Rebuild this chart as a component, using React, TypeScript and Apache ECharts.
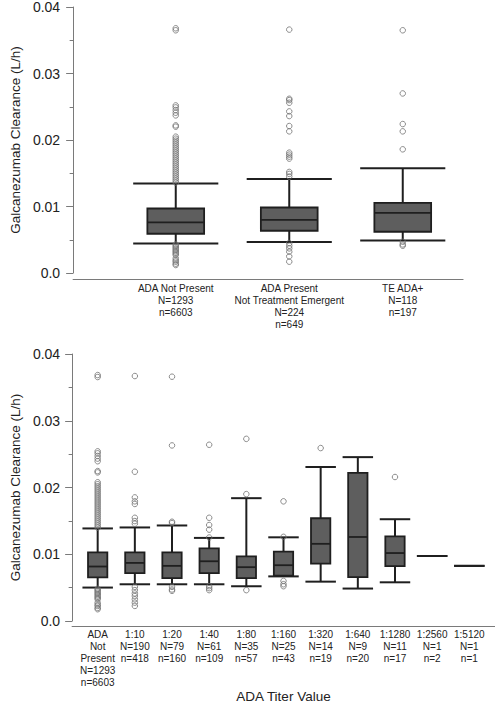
import React, { useEffect, useRef } from "react";
import * as echarts from "echarts";

const FONT = "Liberation Sans";

// ---------- Top panel data ----------
const topNames = ["ADA Not Present", "ADA Present\nNot Treatment Emergent", "TE ADA+"];
const topN = ["N=1293", "N=224", "N=118"];
const topSmallN = ["n=6603", "n=649", "n=197"];
// [lower whisker, Q1, median, Q3, upper whisker]
const topBoxes = [
  [0.00445, 0.0059, 0.0076, 0.0097, 0.01345],
  [0.00465, 0.00635, 0.008, 0.00985, 0.01415],
  [0.0049, 0.0062, 0.00905, 0.01055, 0.01575],
];
const adaNotPresentOutliers = [
  0.0368, 0.0365, 0.0252, 0.0249, 0.0245, 0.0241, 0.0237, 0.0222, 0.022,
  0.0205, 0.0202, 0.0199, 0.0196, 0.0193, 0.019, 0.0187, 0.0184, 0.0181, 0.0178,
  0.0175, 0.0172, 0.0169, 0.0166, 0.0163, 0.016, 0.0157, 0.0154, 0.0151, 0.0148,
  0.0145, 0.0142, 0.0139, 0.0136,
  0.0043, 0.0041, 0.0039, 0.0037, 0.0035, 0.0033, 0.0031, 0.0029, 0.0027,
  0.0022, 0.0019, 0.0017, 0.0014, 0.0012,
];
const topOutliers = [
  adaNotPresentOutliers,
  [0.0366, 0.0262, 0.026, 0.0256, 0.0243, 0.0236, 0.0221, 0.0213, 0.0181, 0.0178,
   0.0175, 0.0172, 0.0152, 0.0149, 0.0145, 0.0045, 0.0041, 0.0037, 0.0032, 0.0025, 0.0017],
  [0.0365, 0.027, 0.0224, 0.0213, 0.0186, 0.0047, 0.0043, 0.0041],
];

// ---------- Bottom panel data ----------
const titerNames = ["ADA\nNot\nPresent", "1:10", "1:20", "1:40", "1:80", "1:160", "1:320", "1:640", "1:1280", "1:2560", "1:5120"];
const titerN = ["N=1293", "N=190", "N=79", "N=61", "N=35", "N=25", "N=14", "N=9", "N=11", "N=1", "N=1"];
const titerSmallN = ["n=6603", "n=418", "n=160", "n=109", "n=57", "n=43", "n=19", "n=20", "n=17", "n=2", "n=1"];
const titerBoxes = [
  [0.00449, 0.00604, 0.00769, 0.00984, 0.01348],
  [0.00499, 0.00669, 0.00824, 0.00984, 0.01363],
  [0.00499, 0.00594, 0.00779, 0.00984, 0.01393],
  [0.00499, 0.00669, 0.00849, 0.01044, 0.01204],
  [0.00469, 0.00594, 0.00759, 0.00924, 0.01808],
  [0.00619, 0.00629, 0.00789, 0.00994, 0.01213],
  [0.00539, 0.00814, 0.01114, 0.01503, 0.02282],
  [0.00434, 0.00609, 0.01218, 0.02192, 0.02432],
  [0.00529, 0.00774, 0.00974, 0.01228, 0.01488],
  [0.00929, 0.00929, 0.00929, 0.00929, 0.00929],
  [0.00779, 0.00779, 0.00779, 0.00779, 0.00779],
];
const titerOutliers = [
  adaNotPresentOutliers,
  [0.03665, 0.0221, 0.0182, 0.0176, 0.0172, 0.0151, 0.0146, 0.0142,
   0.0046, 0.0041, 0.0036, 0.0032, 0.0027, 0.0022, 0.0017],
  [0.03655, 0.0261, 0.0145, 0.0143, 0.0046, 0.0042, 0.004],
  [0.0262, 0.0151, 0.014, 0.0133, 0.0121, 0.0047, 0.0044, 0.0041],
  [0.0271, 0.0187, 0.0041],
  [0.0176, 0.0122, 0.0055, 0.005, 0.0047],
  [0.0257],
  [],
  [0.0213],
  [],
  [],
];

const yTicks = { min: 0, max: 0.04, interval: 0.01 };

const FILL = "#5e5e5e";
const STROKE = "#1f1f1f";
const AXIS = "#7a7a7a";
const TEXT = "#222222";

function makeRender(boxRatio: number, capRatio: number) {
  return (params: any, api: any) => {
    const x = api.value(0);
    const pLo = api.coord([x, api.value(1)]);
    const pQ1 = api.coord([x, api.value(2)]);
    const pMd = api.coord([x, api.value(3)]);
    const pQ3 = api.coord([x, api.value(4)]);
    const pHi = api.coord([x, api.value(5)]);
    const band = api.size([1, 0])[0];
    const bw = band * boxRatio;
    const cw = band * capRatio;
    const cx = pMd[0];
    const lineStyle = { stroke: STROKE, lineWidth: 2 };
    const children: any[] = [
      { type: "line", shape: { x1: cx, y1: pHi[1], x2: cx, y2: pQ3[1] }, style: lineStyle },
      { type: "line", shape: { x1: cx, y1: pQ1[1], x2: cx, y2: pLo[1] }, style: lineStyle },
    ];
    if (pQ1[1] - pQ3[1] > 0.5) {
      children.push({
        type: "rect",
        shape: { x: cx - bw / 2, y: pQ3[1], width: bw, height: pQ1[1] - pQ3[1] },
        style: { fill: FILL, stroke: STROKE, lineWidth: 1.8 },
      });
      children.push({
        type: "line",
        shape: { x1: cx - bw / 2, y1: pMd[1], x2: cx + bw / 2, y2: pMd[1] },
        style: { stroke: STROKE, lineWidth: 1.8 },
      });
    }
    children.push({ type: "line", shape: { x1: cx - cw / 2, y1: pHi[1], x2: cx + cw / 2, y2: pHi[1] }, style: lineStyle });
    children.push({ type: "line", shape: { x1: cx - cw / 2, y1: pLo[1], x2: cx + cw / 2, y2: pLo[1] }, style: lineStyle });
    return { type: "group", children };
  };
}

const yLabelFmt = (v: number) => (v === 0 ? "0.0" : v.toFixed(2));

function visibleY(gridIndex: number, offset: number, nameGap: number, margin: number) {
  return {
    type: "value",
    gridIndex,
    min: yTicks.min,
    max: yTicks.max,
    interval: yTicks.interval,
    offset,
    name: "Galcanezumab Clearance (L/h)",
    nameLocation: "middle",
    nameGap,
    nameTextStyle: { fontFamily: FONT, fontSize: 13.5, color: TEXT },
    axisLine: { show: true, lineStyle: { color: AXIS, width: 1 } },
    axisTick: { show: true, length: 7, lineStyle: { color: AXIS } },
    minorTick: { show: true, splitNumber: 2, length: 3.5, lineStyle: { color: AXIS } },
    axisLabel: { fontFamily: FONT, fontSize: 14, color: TEXT, margin, formatter: yLabelFmt },
    splitLine: { show: false },
  };
}

function hiddenY(gridIndex: number) {
  return { type: "value", gridIndex, min: yTicks.min, max: yTicks.max, show: false, splitLine: { show: false } };
}

function lineOnlyX(gridIndex: number, offset: number) {
  return {
    type: "value",
    gridIndex,
    min: 0,
    max: 1,
    offset,
    axisLine: { show: true, onZero: false, lineStyle: { color: AXIS, width: 1.2 } },
    axisTick: { show: false },
    axisLabel: { show: false },
    splitLine: { show: false },
  };
}

function catX(gridIndex: number, data: string[], margin: number, extra: any = {}) {
  return {
    type: "category",
    gridIndex,
    data,
    axisLine: { show: false },
    axisTick: { show: false },
    axisLabel: {
      interval: 0,
      margin,
      fontFamily: FONT,
      fontSize: 10,
      lineHeight: 12,
      color: TEXT,
      align: "center",
    },
    splitLine: { show: false },
    ...extra,
  };
}

export default function App() {
  const ref = useRef<HTMLDivElement>(null);
  useEffect(() => {
    if (!ref.current) return;
    const chart = echarts.init(ref.current, undefined, { renderer: "svg" });
    const topLabels = topNames.map((n, i) => `${n}\n${topN[i]}\n${topSmallN[i]}`);
    const bottomLabels = titerNames.map((n, i) => `${n}\n${titerN[i]}\n${titerSmallN[i]}`);
    const topBoxData = topBoxes.map((b, i) => [i, ...b]);
    const bottomBoxData = titerBoxes.map((b, i) => [i, ...b]);
    const topOutData: number[][] = [];
    topOutliers.forEach((arr, i) => arr.forEach((v) => topOutData.push([i, v])));
    const bottomOutData: number[][] = [];
    titerOutliers.forEach((arr, i) => arr.forEach((v) => bottomOutData.push([i, v])));

    const outlierStyle = {
      symbol: "circle",
      symbolSize: 5.5,
      itemStyle: { color: "rgba(255,255,255,0)", borderColor: "#707070", borderWidth: 1 },
    };

    chart.setOption({
      animation: false,
      backgroundColor: "#ffffff",
      textStyle: { fontFamily: FONT },
      grid: [
        { left: 63, top: 7, width: 400, height: 266 },
        { left: 119, top: 7, width: 340.5, height: 266 },
        { left: 62, top: 354, width: 433, height: 267 },
        { left: 79.1, top: 354, width: 408.8, height: 267 },
      ],
      xAxis: [
        lineOnlyX(0, 6),
        catX(1, topLabels, 9),
        lineOnlyX(2, 5),
        catX(3, bottomLabels, 11, {
          name: "ADA Titer Value",
          nameLocation: "middle",
          nameGap: 71,
          nameTextStyle: { fontFamily: FONT, fontSize: 13.5, color: TEXT, verticalAlign: "top" },
        }),
      ],
      yAxis: [
        visibleY(0, 3, 45, 10),
        hiddenY(1),
        visibleY(2, 4, 42, 8),
        hiddenY(3),
      ],
      series: [
        {
          type: "custom",
          xAxisIndex: 1,
          yAxisIndex: 1,
          renderItem: makeRender(0.5, 0.75),
          data: topBoxData,
          encode: { x: 0, y: [1, 2, 3, 4, 5] },
        },
        { type: "scatter", xAxisIndex: 1, yAxisIndex: 1, data: topOutData, ...outlierStyle },
        {
          type: "custom",
          xAxisIndex: 3,
          yAxisIndex: 3,
          renderItem: makeRender(0.52, 0.82),
          data: bottomBoxData,
          encode: { x: 0, y: [1, 2, 3, 4, 5] },
        },
        { type: "scatter", xAxisIndex: 3, yAxisIndex: 3, data: bottomOutData, ...outlierStyle },
      ],
    });
    return () => chart.dispose();
  }, []);
  return (
    <div
      ref={ref}
      style={{ position: "fixed", left: 0, top: 0, width: 495, height: 704, background: "#fff" }}
    />
  );
}
